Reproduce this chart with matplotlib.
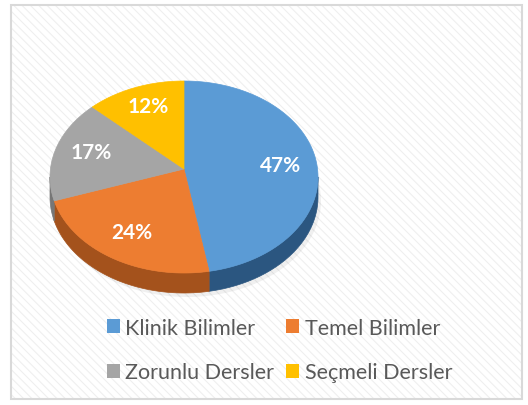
import numpy as np
import matplotlib.pyplot as plt
from matplotlib.patches import Polygon, Patch, Rectangle

plt.rcParams['font.family'] = ['Lato', 'DejaVu Sans']
plt.rcParams['hatch.linewidth'] = 0.8

labels = ['Klinik Bilimler', 'Temel Bilimler', 'Zorunlu Dersler', 'Seçmeli Dersler']
values = [47, 24, 17, 12]
top_colors = ['#5b9bd5', '#ed7d31', '#a5a5a5', '#ffc000']
side_colors = ['#2b5680', '#a4521c', '#767676', '#b38600']

fig = plt.figure(figsize=(5.28, 4.06), dpi=100)
ax = fig.add_axes([0, 0, 1, 1])
ax.set_xlim(0, 528)
ax.set_ylim(406, 0)
ax.axis('off')

# chart area with faint diagonal pattern and grey frame
ax.add_patch(Rectangle((10.5, 5.5), 511, 394, facecolor='white',
                       edgecolor='#efefef', lw=0, hatch='\\\\\\\\'))
ax.add_patch(Rectangle((10.5, 5.5), 511, 394, facecolor='none',
                       edgecolor='#d9d9d9', lw=1.5))

cx, cy, rx, ry, depth = 184, 178, 134, 96, 20

total = sum(values)
bounds = 90 - 360 * np.concatenate([[0], np.cumsum(values)]) / total

def edge(t):
    r = np.radians(t)
    return cx + rx * np.cos(r), cy - ry * np.sin(r)

# soft shadow
tt = np.linspace(0, 360, 200)
sx, sy = edge(tt)
ax.fill(sx + 3, sy + depth + 4, color='#000000', alpha=0.06, lw=0)

# side walls (front half only)
for i in range(len(values)):
    a0, a1 = bounds[i + 1], bounds[i]
    lo, hi = max(a0, -180), min(a1, 0)
    if hi <= lo:
        continue
    t = np.linspace(lo, hi, 80)
    x, y = edge(t)
    px = np.concatenate([x, x[::-1]])
    py = np.concatenate([y, y[::-1] + depth])
    ax.add_patch(Polygon(np.column_stack([px, py]), closed=True,
                         facecolor=side_colors[i], edgecolor=side_colors[i], lw=0.5))

# top surface (apex a bit above the ellipse centre, like the 3D perspective)
apex_y = cy - 8
for i in range(len(values)):
    a0, a1 = bounds[i + 1], bounds[i]
    t = np.linspace(a0, a1, 120)
    x, y = edge(t)
    px = np.concatenate([[cx], x])
    py = np.concatenate([[apex_y], y])
    ax.add_patch(Polygon(np.column_stack([px, py]), closed=True,
                         facecolor=top_colors[i], edgecolor=top_colors[i], lw=0.5))

# percentage labels
for i, v in enumerate(values):
    mid = (bounds[i] + bounds[i + 1]) / 2
    r = np.radians(mid)
    lx = cx + 0.72 * rx * np.cos(r)
    ly = cy - 5 - 0.74 * ry * np.sin(r)
    ax.text(lx, ly, f'{v}%', color='white', fontsize=15, fontweight='bold',
            ha='center', va='center')

handles = [Patch(facecolor=c, edgecolor='none') for c in top_colors]
order = [0, 2, 1, 3]
ax.legend([handles[k] for k in order], [labels[k] for k in order], ncol=2,
          loc='upper left', bbox_to_anchor=(96, 308), bbox_transform=ax.transData,
          frameon=False, fontsize=15.5, labelcolor='#595959',
          handlelength=0.6, handleheight=0.6, handletextpad=0.25,
          columnspacing=0.57, labelspacing=1.14, borderpad=0)

fig.savefig('out.png', dpi=100)
